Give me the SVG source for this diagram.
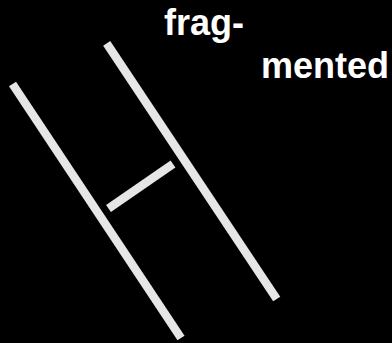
<svg xmlns="http://www.w3.org/2000/svg" width="392" height="343" viewBox="0 0 392 343">
<style>
.bar{stroke:#e6e6e6;stroke-width:8.5;stroke-linecap:butt;fill:none}
.lbl{font-family:"Liberation Sans",Arial,sans-serif;font-weight:bold;font-size:36px;fill:#ffffff}
</style>
<rect x="0" y="0" width="392" height="343" fill="#000000"/>
<g id="strand-left"><line class="bar" x1="12.5" y1="84" x2="181" y2="338"/></g>
<g id="strand-right"><line class="bar" x1="106.7" y1="43.3" x2="276.7" y2="299"/></g>
<g id="connectors"><line class="bar" x1="108.5" y1="208.5" x2="173" y2="164"/></g>
<g id="labels">
<text class="lbl" x="164" y="35">frag-</text>
<text class="lbl" x="261" y="78">mented</text>
</g>
</svg>
